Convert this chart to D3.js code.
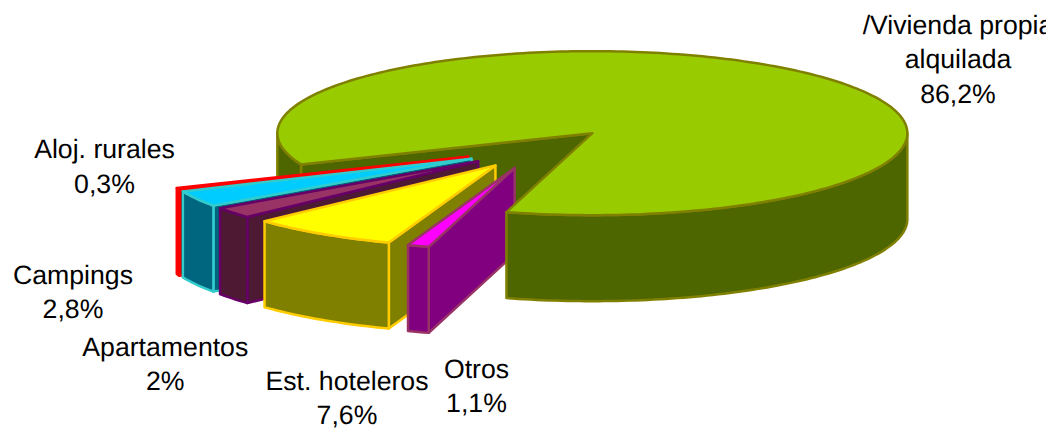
<!DOCTYPE html>
<html>
<head>
<meta charset="utf-8">
<style>
  html, body { margin: 0; padding: 0; background: #fff; overflow: hidden; }
  svg { display: block; }
  text { font-family: "Liberation Sans", Arial, sans-serif; font-size: 26.67px; fill: #000; text-rendering: geometricPrecision; }
</style>
</head>
<body>
<svg id="chart" width="1046" height="431"></svg>
<script src="https://cdn.jsdelivr.net/npm/d3@7"></script>
<script>
// slice values in drawing order, clockwise from the big slice
const categories = ["/Vivienda propia\nalquilada", "Otros", "Est. hoteleros", "Apartamentos", "Campings", "Aloj. rurales"];
const values = [86.2, 1.1, 7.6, 2, 2.8, 0.3];

const topColors = ["#99cc00", "#ff00ff", "#ffff00", "#993366", "#00ccff", "#ff0000"];
const wallColors = ["#4d6600", "#800080", "#808000", "#4d1933", "#006680", "#800000"];
const strokeColors = ["#808000", "#993366", "#ffcc00", "#660066", "#33cccc", "#ff0000"];

// label centre x and first baseline y
const labelPos = [[958, 34], [476.5, 377.6], [347, 390], [165.3, 356], [73, 284], [104.5, 158.3]];

const WIDTH = 1046, HEIGHT = 431;
const CENTER = { X: 540, Y: 148.5 };
const RX = 315, RY = 82, DEPTH = 86;
const EXPLODE = 0.25;
const LINE_HEIGHT = 34.4;
const RAD = Math.PI / 180;

const svg = d3.select("#chart");

const pie = d3.pie()
  .sort(null)
  .startAngle(246.5 * RAD)
  .endAngle((246.5 + 360) * RAD);

const arcs = pie(values);

// unit circle to screen
const x = d3.scaleLinear().domain([-1, 1]).range([CENTER.X - RX, CENTER.X + RX]);
const y = d3.scaleLinear().domain([-1, 1]).range([CENTER.Y - RY, CENTER.Y + RY]);

// the original's 3d view squeezes the front left a bit, degrees added to the rim angle
const warp = d3.scaleLinear()
  .domain([90, 197, 230, 247, 270])
  .range([0, -1, -1, 1.2, 0])
  .clamp(true);

const rimAngle = a => {
  const deg = (a / RAD) % 360;
  return a + warp(deg) * RAD;
};

// a: clockwise from top, e: how far out from the centre, dz: drop in px
const pt = (a, e = 1, dz = 0, off = [0, 0]) => {
  const b = e ? rimAngle(a) : a;
  return [
    x(Math.sin(b) * e + off[0]),
    y(-Math.cos(b) * e + off[1]) + dz
  ];
};

const line = d3.line().curve(d3.curveLinear);

const sweep = (a0, a1) => {
  const n = Math.max(2, Math.ceil(Math.abs(a1 - a0) / 0.02));
  return d3.range(n + 1).map(i => a0 + (a1 - a0) * i / n);
};

const offsetOf = d => {
  const mid = (d.startAngle + d.endAngle) / 2;
  return [Math.sin(mid) * EXPLODE, -Math.cos(mid) * EXPLODE];
};

const draw = (pts, i, fill) => svg.append("path")
  .attr("d", line(pts) + "Z")
  .attr("fill", fill)
  .attr("stroke", strokeColors[i])
  .attr("stroke-width", 2.5)
  .attr("stroke-linejoin", "round");

const topFace = (d, i) => {
  const off = offsetOf(d);
  const rim = sweep(d.startAngle, d.endAngle).map(a => pt(a, 1, 0, off));
  draw([pt(0, 0, 0, off), ...rim], i, topColors[i]);
};

// flat side from the apex out to the rim at angle a
const sideWall = (d, i, a) => {
  const off = offsetOf(d);
  draw([pt(0, 0, 0, off), pt(a, 1, 0, off), pt(a, 1, DEPTH, off), pt(0, 0, DEPTH, off)], i, wallColors[i]);
};

// curved outer wall between two angles
const rimWall = (d, i, a0, a1) => {
  const off = offsetOf(d);
  const angles = sweep(a0, a1);
  draw([
    ...angles.map(a => pt(a, 1, 0, off)),
    ...angles.slice().reverse().map(a => pt(a, 1, DEPTH, off))
  ], i, wallColors[i]);
};

// big slice, back parts first
const main = arcs[0];
const TWO_PI = Math.PI * 2;
sideWall(main, 0, main.startAngle);
rimWall(main, 0, main.startAngle, 1.5 * Math.PI);

// small slices, far one first
arcs.slice(1).reverse().forEach(d => {
  const i = d.index;
  sideWall(d, i, d.startAngle);
  rimWall(d, i, d.startAngle, d.endAngle);
  topFace(d, i);
});

// front of the big slice goes over them
rimWall(main, 0, TWO_PI + 0.5 * Math.PI, main.endAngle);
topFace(main, 0);

// labels
const pctFormat = v => String(v).replace(".", ",") + "%";

categories.forEach((name, i) => {
  const lines = [...name.split("\n"), pctFormat(values[i])];
  const label = svg.append("text")
    .attr("text-anchor", "middle")
    .attr("x", labelPos[i][0])
    .attr("y", labelPos[i][1]);
  label.selectAll("tspan")
    .data(lines)
    .join("tspan")
    .attr("x", labelPos[i][0])
    .attr("y", (l, j) => labelPos[i][1] + j * LINE_HEIGHT)
    .text(l => l);
});
</script>
</body>
</html>
